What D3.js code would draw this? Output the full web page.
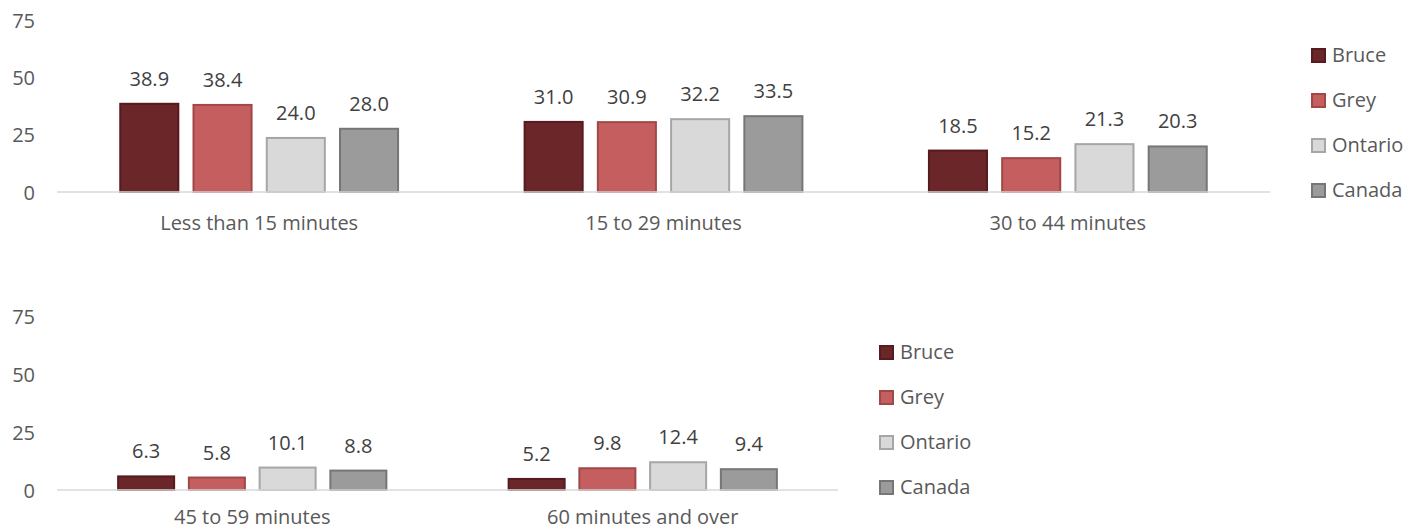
<!DOCTYPE html>
<meta charset="utf-8">
<style>
    body { margin: 0; background: #fff; }
    svg { display: block; font-family: "Open Sans", sans-serif; }
    .axis path, .axis line { display: none; }
    .axis text { fill: #595959; font-size: 20px; font-family: "Open Sans", sans-serif; }
    .baseline { stroke: #d9d9d9; stroke-width: 1.5; }
    .value { fill: #404040; font-size: 20px; text-anchor: middle; }
    .legend text { fill: #595959; font-size: 20px; }
</style>
<svg width="1420" height="531"></svg>
<script src="https://cdn.jsdelivr.net/npm/d3@7"></script>
<script>
    // commute duration categories
    var categories = ['Less than 15 minutes', '15 to 29 minutes', '30 to 44 minutes', '45 to 59 minutes', '60 minutes and over'];
    var seriesNames = ['Bruce', 'Grey', 'Ontario', 'Canada'];
    var bruce = [38.9, 31.0, 18.5, 6.3, 5.2];
    var grey = [38.4, 30.9, 15.2, 5.8, 9.8];
    var ontario = [24.0, 32.2, 21.3, 10.1, 12.4];
    var canada = [28.0, 33.5, 20.3, 8.8, 9.4];
    var yTicks = [0, 25, 50, 75];

    var fills = ['#6b2629', '#c55f5f', '#d9d9d9', '#9b9b9b'];
    var strokes = ['#561b1e', '#a04747', '#a6a6a6', '#767676'];

    var allSeries = [bruce, grey, ontario, canada];
    var svg = d3.select('svg');

    // one panel = a y axis, a group of bars per category, a legend
    function drawPanel(cats, opts) {
        var g = svg.append('g');

        var y = d3.scaleLinear().domain([0, 75]).range([opts.bottom, opts.top]);
        var x = d3.scaleBand().domain(cats).range([opts.left, opts.right]);
        var xs = d3.scaleBand().domain(seriesNames).range([0, x.bandwidth()])
            .paddingInner(0.18).paddingOuter(0.85);

        g.append('g')
            .attr('class', 'axis')
            .attr('transform', 'translate(' + (opts.left - 22) + ',0)')
            .call(d3.axisLeft(y).tickValues(yTicks).tickSize(0).tickPadding(0))
            .selectAll('text').attr('dy', '0.35em');

        var rows = [];
        cats.forEach(function(c) {
            var i = categories.indexOf(c);
            seriesNames.forEach(function(s, j) {
                rows.push({ cat: c, series: s, idx: j, value: allSeries[j][i] });
            });
        });

        g.selectAll('.bar')
            .data(rows)
            .enter().append('rect')
            .attr('class', 'bar')
            .attr('x', d => x(d.cat) + xs(d.series) + 1)
            .attr('y', d => y(d.value) + 1)
            .attr('width', xs.bandwidth() - 2)
            .attr('height', d => y(0) - y(d.value) - 1)
            .attr('fill', d => fills[d.idx])
            .attr('stroke', d => strokes[d.idx])
            .attr('stroke-width', 2);

        g.append('line')
            .attr('class', 'baseline')
            .attr('x1', opts.left).attr('x2', opts.right)
            .attr('y1', y(0)).attr('y2', y(0));

        g.selectAll('.value')
            .data(rows)
            .enter().append('text')
            .attr('class', 'value')
            .attr('x', d => x(d.cat) + xs(d.series) + xs.bandwidth() / 2)
            .attr('y', d => y(d.value) - 17)
            .text(d => d.value.toFixed(1));

        g.append('g')
            .attr('class', 'axis')
            .attr('transform', 'translate(0,' + y(0) + ')')
            .call(d3.axisBottom(x).tickSize(0).tickPadding(0))
            .selectAll('text').attr('dy', null).attr('y', opts.labelY);

        var lg = g.append('g').attr('class', 'legend')
            .attr('transform', 'translate(' + opts.legendX + ',' + opts.legendY + ')');
        var item = lg.selectAll('g').data(seriesNames).enter().append('g')
            .attr('transform', (d, j) => 'translate(0,' + j * opts.legendStep + ')');
        item.append('rect')
            .attr('x', 1).attr('y', -6).attr('width', 13).attr('height', 13)
            .attr('fill', (d, j) => fills[j])
            .attr('stroke', (d, j) => strokes[j])
            .attr('stroke-width', 2);
        item.append('text')
            .attr('x', 21).attr('dy', '0.35em')
            .text(d => d);
    }

    drawPanel(categories.slice(0, 3), {
        left: 57, right: 1270, top: 20, bottom: 192, labelY: 38,
        legendX: 1311, legendY: 55, legendStep: 45
    });
    // bottom panel labels sit at the window edge, lift them a little so they fit
    drawPanel(categories.slice(3), {
        left: 57, right: 838, top: 316, bottom: 490, labelY: 34,
        legendX: 879, legendY: 352, legendStep: 45
    });
</script>
